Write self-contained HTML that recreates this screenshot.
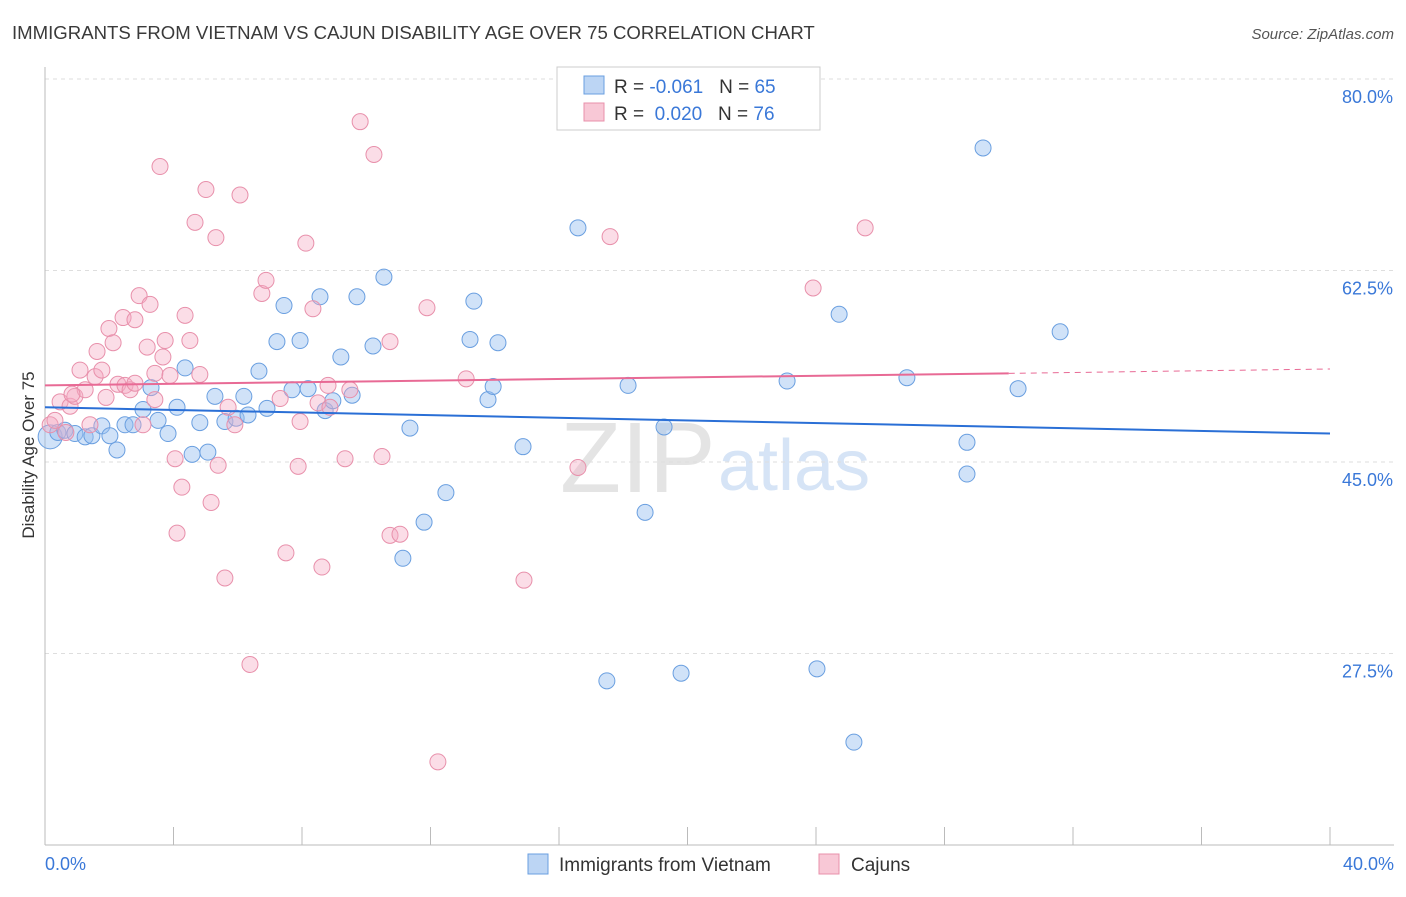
<!DOCTYPE html>
<html><head><meta charset="utf-8"><style>
body{margin:0;background:#fff;font-family:"Liberation Sans",sans-serif;}
svg text{font-family:"Liberation Sans",sans-serif;}
</style></head><body>
<svg id="chart" width="1406" height="892">
<text x="12" y="39" font-size="18.6" fill="#3a3a3a">IMMIGRANTS FROM VIETNAM VS CAJUN DISABILITY AGE OVER 75 CORRELATION CHART</text>
<text x="1394" y="39" font-size="15" fill="#555" text-anchor="end" font-style="italic">Source: ZipAtlas.com</text>
<text x="34" y="455" font-size="17" fill="#333" text-anchor="middle" transform="rotate(-90 34 455)">Disability Age Over 75</text>
<text x="560" y="492" font-size="100" fill="#e4e4e4" font-family="Liberation Serif">ZIP</text>
<text x="718" y="490" font-size="72" fill="#d6e4f6">atlas</text>
<g id="grid"></g><g id="axes"></g><g id="pts"></g><g id="lines"></g>
<g>
<rect x="557" y="67" width="263" height="63" fill="#fff" stroke="#ccc"/>
<rect x="584" y="76" width="20" height="18" fill="#bcd5f4" stroke="#6a9fe0"/>
<text x="614" y="93" font-size="19" fill="#333">R = <tspan fill="#3a78d8">-0.061</tspan>&#160;&#160;&#160;N = <tspan fill="#3a78d8">65</tspan></text>
<rect x="584" y="103" width="20" height="18" fill="#f8c8d6" stroke="#e890ab"/>
<text x="614" y="120" font-size="19" fill="#333">R = &#160;<tspan fill="#3a78d8">0.020</tspan>&#160;&#160;&#160;N = <tspan fill="#3a78d8">76</tspan></text>
</g>
<g>
<rect x="528" y="854" width="20" height="20" fill="#bcd5f4" stroke="#6a9fe0"/>
<text x="559" y="871" font-size="19" fill="#333">Immigrants from Vietnam</text>
<rect x="819" y="854" width="20" height="20" fill="#f8c8d6" stroke="#e890ab"/>
<text x="851" y="871" font-size="19" fill="#333">Cajuns</text>
</g>
</svg>
<script>
const yTicks=[80,62.5,45,27.5];
const yTickLabels=["80.0%","62.5%","45.0%","27.5%"];
const xTickLabels=["0.0%","40.0%"];
const blueX=[.16,.4,.62,.93,1.25,1.46,1.77,2.02,2.24,2.49,2.74,3.05,3.3,3.52,3.83,4.11,4.36,4.58,4.82,5.07,5.29,5.6,5.95,6.19,6.32,6.66,6.91,7.22,7.44,7.69,7.94,8.19,8.56,8.72,8.96,9.21,9.56,9.71,10.21,10.55,11.14,11.36,11.8,12.48,13.23,13.35,13.79,13.95,14.1,14.88,16.59,17.49,18.15,18.68,19.27,19.8,23.1,24.03,24.72,25.18,26.83,28.7,28.7,29.2,30.29,31.6];
const blueY=[47.3,47.7,47.9,47.6,47.3,47.4,48.3,47.4,46.1,48.4,48.4,49.8,51.8,48.8,47.6,50.0,53.6,45.7,48.6,45.9,51.0,48.7,49.0,51.0,49.3,53.3,49.9,56.0,59.3,51.6,56.1,51.7,60.1,49.7,50.6,54.6,51.1,60.1,55.6,61.9,36.2,48.1,39.5,42.2,56.2,59.7,50.7,51.9,55.9,46.4,66.4,25.0,52.0,40.4,48.2,25.7,52.4,26.1,58.5,19.4,52.7,46.8,43.9,73.7,51.7,56.9];
const pinkX=[.16,.31,.47,.65,.78,.93,1.09,1.25,1.4,1.56,1.62,1.77,1.9,1.99,2.12,2.27,2.43,2.49,2.65,2.8,2.93,3.05,3.18,3.27,3.42,3.58,3.67,3.74,3.89,4.05,4.11,4.26,4.36,4.51,4.67,4.82,5.01,5.17,5.32,5.39,5.6,5.7,5.91,6.07,6.38,6.75,6.88,7.32,7.5,7.88,7.94,8.12,8.34,8.5,8.62,8.81,8.87,9.34,9.49,9.81,10.24,10.49,10.74,10.74,11.05,11.89,13.11,14.91,16.59,17.59,23.91,25.53,12.23,.84,2.8,3.42];
const pinkY=[48.4,48.8,50.5,47.7,50.1,51.0,53.4,51.6,48.4,52.8,55.1,53.4,50.9,57.2,55.9,52.1,58.2,52.0,51.6,58.0,60.2,48.4,55.5,59.4,53.1,72.0,54.6,56.1,52.9,45.3,38.5,42.7,58.4,56.1,66.9,53.0,69.9,41.3,65.5,44.7,34.4,50.0,48.4,69.4,26.5,60.4,61.6,50.8,36.7,44.6,48.7,65.0,59.0,50.4,35.4,52.0,50.0,45.3,51.6,76.1,73.1,45.5,56.0,38.3,38.4,59.1,52.6,34.2,44.5,65.6,60.9,66.4,17.6,51.2,52.2,50.7];
const blueTrend=[50.0,47.6];
const pinkTrend=[52.0,53.1,53.5];
const NS="http://www.w3.org/2000/svg";
function sx(v){return 45+v*(1330-45)/40;}
function sy(v){return 79+(80-v)*191.5/17.5;}
function mk(tag,attrs,parent){const e=document.createElementNS(NS,tag);for(const k in attrs)e.setAttribute(k,attrs[k]);document.getElementById(parent).appendChild(e);return e;}
yTicks.forEach((t,i)=>{
  const g=mk('line',{x1:45,x2:1394,y1:sy(t),y2:sy(t),stroke:'#dedede','stroke-dasharray':'4,4'},'grid');
  
  
  const l=mk('text',{x:1393,y:sy(t)+24,'font-size':18,fill:'#3a78d8','text-anchor':'end'},'axes');
  l.textContent=yTickLabels[i];
  
  
});
const ax=mk('line',{x1:45,x2:1394,y1:845,y2:845,stroke:'#bbb'},'axes');


const ay=mk('line',{x1:45,x2:45,y1:67,y2:845,stroke:'#bbb'},'axes');


for(let i=0;i<=10;i++){
  const t=mk('line',{x1:sx(i*4),x2:sx(i*4),y1:827,y2:845,stroke:'#bbb'},'axes');
  
  
}
[[0,'start',45],[40,'end',1394]].forEach((d,i)=>{
  const l=mk('text',{x:d[2],y:870,'font-size':18,fill:'#3a78d8','text-anchor':d[1]},'axes');
  l.textContent=xTickLabels[i];
  
  
});
blueX.forEach((x,i)=>{
  const c=mk('circle',{cx:sx(x),cy:sy(blueY[i]),r:i===0?12:8,fill:'rgba(150,190,240,0.45)',stroke:'#6a9fe0','stroke-width':1},'pts');
  
  
});
pinkX.forEach((x,i)=>{
  const c=mk('circle',{cx:sx(x),cy:sy(pinkY[i]),r:8,fill:'rgba(245,170,195,0.4)',stroke:'#e890ab','stroke-width':1},'pts');
  
  
});
const bl=mk('line',{x1:sx(0),y1:sy(blueTrend[0]),x2:sx(40),y2:sy(blueTrend[1]),stroke:'#2a6fd6','stroke-width':2},'lines');


const pl=mk('line',{x1:sx(0),y1:sy(pinkTrend[0]),x2:sx(30),y2:sy(pinkTrend[1]),stroke:'#e86a95','stroke-width':2},'lines');


const pd=mk('line',{x1:sx(30),y1:sy(pinkTrend[1]),x2:sx(40),y2:sy(pinkTrend[2]),stroke:'#e86a95','stroke-width':1,'stroke-dasharray':'6,5'},'lines');


</script>
</body></html>
